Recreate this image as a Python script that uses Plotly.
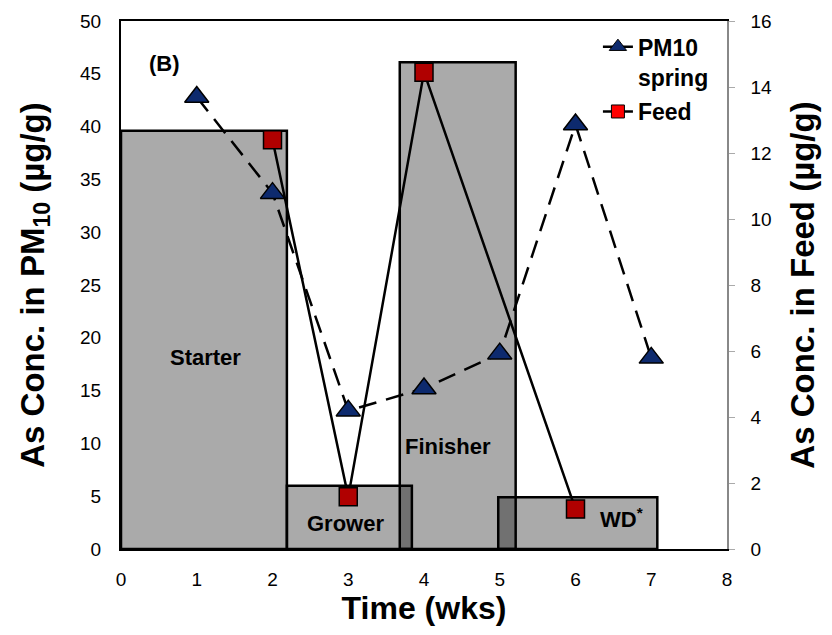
import plotly.graph_objects as go

# Phase boxes (left axis units)
phases = ["Starter", "Grower", "Finisher", "WD<sup>*</sup>"]
phase_start = [0.0, 2.19, 3.68, 4.98]
phase_end = [2.19, 3.84, 5.21, 7.08]
phase_height = [39.6, 6.0, 46.1, 4.9]
phase_label_x = [1.11, 2.97, 4.32, 6.61]
phase_label_y = [18.1, 2.4, 9.7, 2.9]

# Series
weeks = [1, 2, 3, 4, 5, 6, 7]
pm10_spring = [42.8, 33.7, 13.1, 15.2, 18.5, 40.2, 18.1]
feed_weeks = [2, 3, 4, 6]
feed = [12.4, 1.58, 14.45, 1.21]

FONT = "Liberation Sans, Arial, sans-serif"

fig = go.Figure()

centers = [(s + e) / 2 for s, e in zip(phase_start, phase_end)]
widths = [e - s for s, e in zip(phase_start, phase_end)]
fig.add_trace(go.Bar(
    x=centers, y=phase_height, width=widths,
    marker=dict(color="rgba(0,0,0,0.333)", line=dict(color="black", width=2.5)),
    showlegend=False, hoverinfo="skip", yaxis="y",
))

fig.add_trace(go.Scatter(
    x=weeks, y=pm10_spring, mode="lines+markers", yaxis="y",
    line=dict(color="black", width=2.5, dash="18px,10px"),
    marker=dict(symbol="triangle-up", size=21, color="#0d2a6e",
                line=dict(color="black", width=1.5)),
    showlegend=False,
))
fig.add_trace(go.Scatter(
    x=feed_weeks, y=feed, mode="lines+markers", yaxis="y2",
    line=dict(color="black", width=2.5),
    marker=dict(symbol="square", size=18, color="#b00000",
                line=dict(color="black", width=1.5)),
    showlegend=False,
))
# legend entries
fig.add_trace(go.Scatter(
    x=[None], y=[None], mode="lines+markers", name="<b>PM10<br>spring</b>",
    legendgroup="a",
    line=dict(color="black", width=2.5),
    marker=dict(symbol="triangle-up", size=15, color="#0d2a6e",
                line=dict(color="black", width=1)),
))
fig.add_trace(go.Scatter(
    x=[None], y=[None], mode="lines+markers", name="<b>Feed</b>", yaxis="y2",
    legendgroup="b",
    line=dict(color="black", width=2.5),
    marker=dict(symbol="square", size=13, color="#ff0000",
                line=dict(color="black", width=1)),
))

annotations = []
for name, lx, ly in zip(phases, phase_label_x, phase_label_y):
    annotations.append(dict(x=lx, y=ly, xref="x", yref="y", text="<b>" + name + "</b>",
                            showarrow=False, font=dict(family=FONT, size=22, color="black")))
annotations.append(dict(x=0.58, y=46.0, xref="x", yref="y", text="<b>(B)</b>",
                        showarrow=False, font=dict(family=FONT, size=22, color="black")))

fig.update_layout(
    width=816, height=619,
    margin=dict(l=113, r=97, t=13, b=78),
    plot_bgcolor="white", paper_bgcolor="white",
    barmode="overlay",
    font=dict(family=FONT, size=19, color="black"),
    xaxis=dict(range=[0, 8], dtick=1, tick0=0, showgrid=False, zeroline=False,
               showline=True, linecolor="black", linewidth=2, mirror=True,
               ticks="", tickfont=dict(size=19), automargin=False, ticklabelstandoff=12,
               title=dict(text="<b>Time (wks)</b>", font=dict(size=32), standoff=3)),
    yaxis=dict(range=[0, 50], dtick=5, showgrid=False, zeroline=False,
               showline=True, linecolor="black", linewidth=2, mirror=True,
               ticks="", tickfont=dict(size=19), automargin=False, ticklabelstandoff=14,
               title=dict(text="<b>As Conc. in PM<sub>10</sub> (µg/g)</b>", font=dict(size=33), standoff=26)),
    yaxis2=dict(range=[0, 16], dtick=2, overlaying="y", side="right", showgrid=False,
                zeroline=False, showline=True, linecolor="#888888", linewidth=1.5,
                ticks="outside", ticklen=6, tickcolor="#aaaaaa", tickfont=dict(size=19),
                automargin=False, ticklabelstandoff=12,
                title=dict(text="<b>As Conc. in Feed (µg/g)</b>", font=dict(size=33), standoff=20)),
    legend=dict(x=0.787, y=0.992, xanchor="left", yanchor="top", bgcolor="rgba(0,0,0,0)",
                font=dict(family=FONT, size=23), tracegroupgap=2, valign="top"),
    annotations=annotations,
)

fig.write_html("out.html")
